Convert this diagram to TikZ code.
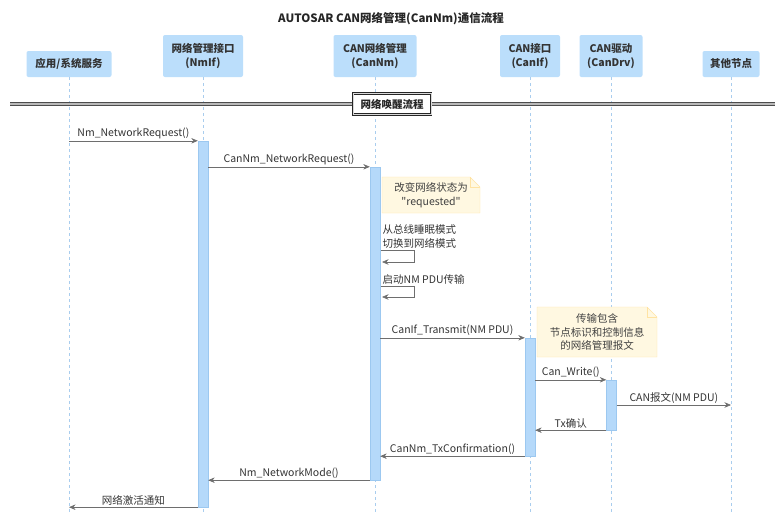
\documentclass[tikz,border=0pt]{standalone}
\usepackage{fontspec}
\setmainfont{Noto Sans CJK SC}[Ligatures=TeXOff]
\usetikzlibrary{arrows.meta}
\definecolor{headblue}{HTML}{BBDEFB}
\definecolor{actblue}{HTML}{B5D9FA}
\definecolor{actline}{HTML}{9CC8F0}
\definecolor{lanecol}{HTML}{A9CDEE}
\definecolor{notefill}{HTML}{FFF8E1}
\definecolor{noteline}{HTML}{FFE3A3}
\definecolor{msgcol}{HTML}{6E6E6E}

\begin{document}
\begin{tikzpicture}[x=1pt,y=-1pt,
  head/.style={fill=headblue,rounded corners=2pt,align=center,inner sep=0pt,
    font=\bfseries\fontsize{10.5}{13.5}\selectfont,text=black!80},
  lane/.style={lanecol,thin,dash pattern=on 3pt off 3pt},
  act/.style={fill=actblue,draw=actline,thin,inner sep=0pt,minimum width=10pt},
  msg/.style={msgcol,line width=.6pt,-{Stealth[length=6.5pt,width=5.5pt]}},
  lbl/.style={above,inner sep=1.5pt,text=black!80,font=\fontsize{10.5}{12}\selectfont},
  notebox/.style={fill=notefill,draw=noteline,thin},
  notetext/.style={align=center,text=black!75,font=\fontsize{10.5}{13.5}\selectfont}]
\useasboundingbox (0,0) rectangle (780,512);
\coordinate (bottom) at (0,512);
%
\node[font=\bfseries\fontsize{11.5}{13}\selectfont,text=black!85] (title) at (391,19)
  {AUTOSAR CAN网络管理(CanNm)通信流程};
%
\node[head,minimum width=85pt,minimum height=26pt] (app) at (69,64) {应用/系统服务};
\node[head,minimum width=80pt,minimum height=42pt] (nmif) at (203,56) {网络管理接口\\(NmIf)};
\node[head,minimum width=83pt,minimum height=42pt] (cannm) at (375,56) {CAN网络管理\\(CanNm)};
\node[head,minimum width=60pt,minimum height=42pt] (canif) at (530,56) {CAN接口\\(CanIf)};
\node[head,minimum width=63pt,minimum height=42pt] (candrv) at (611,56) {CAN驱动\\(CanDrv)};
\node[head,minimum width=57pt,minimum height=26pt] (other) at (731,64) {其他节点};
\foreach \n in {app,nmif,cannm,canif,candrv,other}
  \draw[lane] (\n.south) -- (\n.south |- bottom);
%
\coordinate (dl) at (10,104);
\coordinate (dr) at (775,104);
\draw[black!70,line width=.7pt,double=gray!55,double distance=2.2pt] (dl) -- (dr);
\node[draw=black!85,line width=.8pt,double=gray!30,double distance=.8pt,fill=white,
  inner sep=0pt,minimum width=78pt,minimum height=21pt,
  font=\bfseries\fontsize{10.5}{12}\selectfont,text=black!85] (wake) at (392,104) {网络唤醒流程};
%
\node[act,minimum height=366pt] (nmact) at (203,324) {};
\node[act,minimum height=313pt] (cnact) at (375,323.5) {};
\node[act,minimum height=118pt] (ifact) at (530,397) {};
\node[act,minimum height=50pt] (drvact) at (611.5,405) {};
%
\draw[msg] (app |- nmact.north) -- (nmact.north west)
  node[lbl,midway] (m1) {Nm\_NetworkRequest()};
\draw[msg] (nmact.east |- cnact.north) -- (cnact.north west)
  node[lbl,midway] (m2) {CanNm\_NetworkRequest()};
%
\draw[notebox] (382,177) -- (470,177) -- (480,187) -- (480,213) -- (382,213) -- cycle;
\draw[notebox,fill=none] (470,177) -- (470,187) -- (480,187);
\node[notetext] (note1) at (431,195) {改变网络状态为\\"requested"};
%
\coordinate (s1) at (381,250);
\draw[msg] (s1) -- ++(33,0) -- ++(0,12) -- ++(-32,0);
\node[lbl,anchor=south west,align=left,font=\fontsize{10.5}{14}\selectfont] (m3) at (s1) {从总线睡眠模式\\切换到网络模式};
\coordinate (s2) at (381,286);
\draw[msg] (s2) -- ++(33,0) -- ++(0,11) -- ++(-32,0);
\node[lbl,anchor=south west] (m4) at (s2) {启动NM PDU传输};
%
\draw[notebox] (537,307) -- (647,307) -- (657,317) -- (657,357) -- (537,357) -- cycle;
\draw[notebox,fill=none] (647,307) -- (647,317) -- (657,317);
\node[notetext] (note2) at (597,332) {传输包含\\节点标识和控制信息\\的网络管理报文};
%
\draw[msg] (cnact.east |- ifact.north) -- (ifact.north west)
  node[lbl,midway] (m5) {CanIf\_Transmit(NM PDU)};
\draw[msg] (ifact.east |- drvact.north) -- (drvact.north west)
  node[lbl,midway] (m6) {Can\_Write()};
\draw[msg] (drvact.east) -- (other |- drvact.east)
  node[lbl,midway] (m7) {CAN报文(NM PDU)};
\draw[msg] (drvact.south west) -- (ifact.east |- drvact.south)
  node[lbl,midway] (m8) {Tx确认};
\draw[msg] (ifact.south west) -- (cnact.east |- ifact.south)
  node[lbl,midway] (m9) {CanNm\_TxConfirmation()};
\draw[msg] (cnact.south west) -- (nmact.east |- cnact.south)
  node[lbl,midway] (m10) {Nm\_NetworkMode()};
\draw[msg] (nmact.south west) -- (app |- nmact.south)
  node[lbl,midway] (m11) {网络激活通知};
\end{tikzpicture}
\end{document}
